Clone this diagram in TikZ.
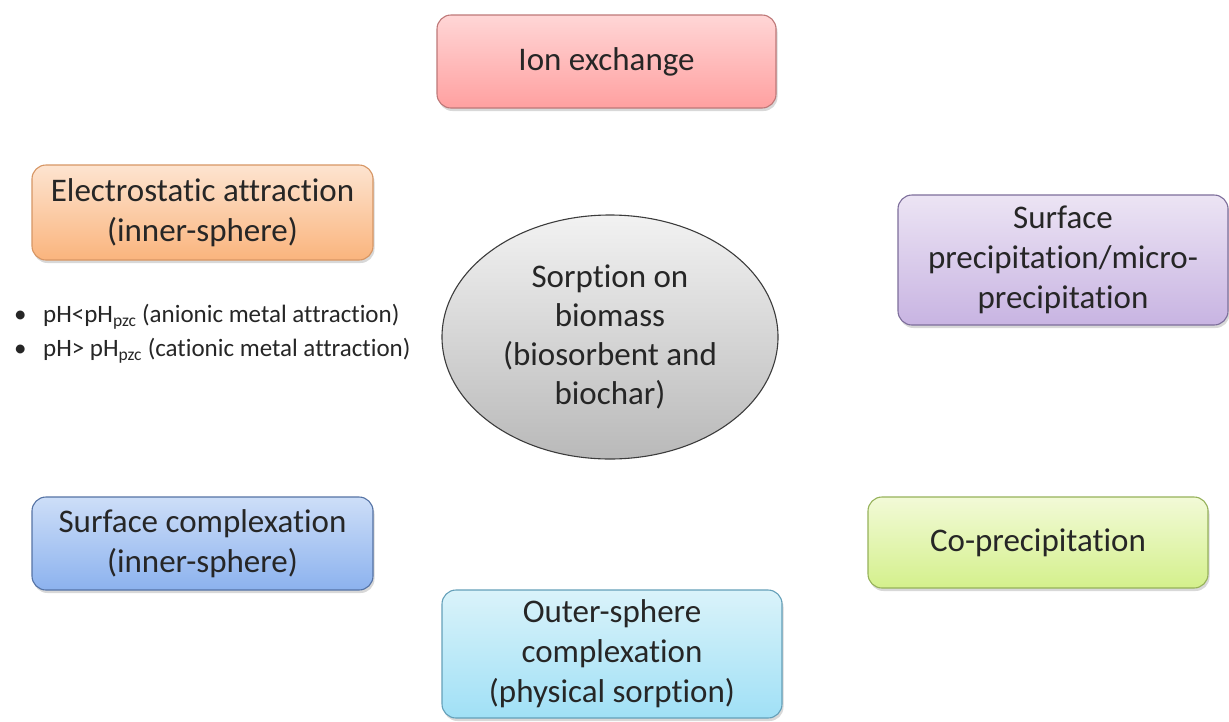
\documentclass[tikz,border=0pt]{standalone}
\usepackage{fontspec}
\setmainfont{Carlito}[Ligatures=NoCommon]
\usetikzlibrary{shapes.geometric,shadows}
\definecolor{txt}{HTML}{262626}
\tikzset{
  box/.style={rectangle, rounded corners=14pt, line width=1.1pt, align=center,
    font=\fontsize{33}{40}\selectfont, text=txt, inner sep=0pt,
    drop shadow={shadow xshift=1.5pt, shadow yshift=-3pt, opacity=0.25, fill=black!60}},
}
\begin{document}
\begin{tikzpicture}[x=1pt,y=1pt]
\useasboundingbox[fill=white] (0,0) rectangle (1229,-721);
\node[box, draw={rgb,255:red,190;green,120;blue,120}, top color={rgb,255:red,255;green,214;blue,214}, bottom color={rgb,255:red,255;green,160;blue,160}, minimum width=339pt, minimum height=93pt] (ion) at (606.5,-61.5) {Ion exchange};
\node[box, draw={rgb,255:red,215;green,150;blue,100}, top color={rgb,255:red,253;green,228;blue,208}, bottom color={rgb,255:red,250;green,180;blue,125}, minimum width=341pt, minimum height=95pt] (elec) at (202.5,-212.5) {Electrostatic attraction\\(inner-sphere)};
\node[box, draw={rgb,255:red,125;green,110;blue,155}, top color={rgb,255:red,236;green,228;blue,244}, bottom color={rgb,255:red,200;green,180;blue,226}, minimum width=330pt, minimum height=130pt] (surfp) at (1063,-260) {Surface\\precipitation/micro-\\precipitation};
\node[box, draw={rgb,255:red,85;green,115;blue,165}, top color={rgb,255:red,205;green,222;blue,248}, bottom color={rgb,255:red,140;green,178;blue,238}, minimum width=341pt, minimum height=93pt] (surfc) at (202.5,-543.5) {Surface complexation\\(inner-sphere)};
\node[box, draw={rgb,255:red,150;green,178;blue,90}, top color={rgb,255:red,242;green,250;blue,215}, bottom color={rgb,255:red,212;green,240;blue,140}, minimum width=340pt, minimum height=91pt] (cop) at (1038,-542.5) {Co-precipitation};
\node[box, draw={rgb,255:red,100;green,160;blue,185}, top color={rgb,255:red,218;green,243;blue,250}, bottom color={rgb,255:red,160;green,224;blue,246}, minimum width=340pt, minimum height=128pt] (outer) at (612,-654) {Outer-sphere\\complexation\\(physical sorption)};
\node[ellipse, draw={rgb,255:red,60;green,60;blue,60}, line width=1.1pt, top color={rgb,255:red,242;green,242;blue,242}, bottom color={rgb,255:red,185;green,185;blue,185}, minimum width=336pt, minimum height=244pt, inner sep=0pt, align=center, font=\fontsize{33}{39}\selectfont, text=txt] (bio) at (610,-337) {Sorption on\\biomass\\(biosorbent and\\biochar)};
\node[anchor=west, align=left, inner sep=0pt, font=\fontsize{25}{34}\selectfont, text=txt] (ph) at (8,-334) {\makebox[35pt][l]{\hspace{6pt}\textbullet}pH<pH\textsubscript{pzc} (anionic metal attraction)\\\makebox[35pt][l]{\hspace{6pt}\textbullet}pH> pH\textsubscript{pzc} (cationic metal attraction)};
\end{tikzpicture}
\end{document}
